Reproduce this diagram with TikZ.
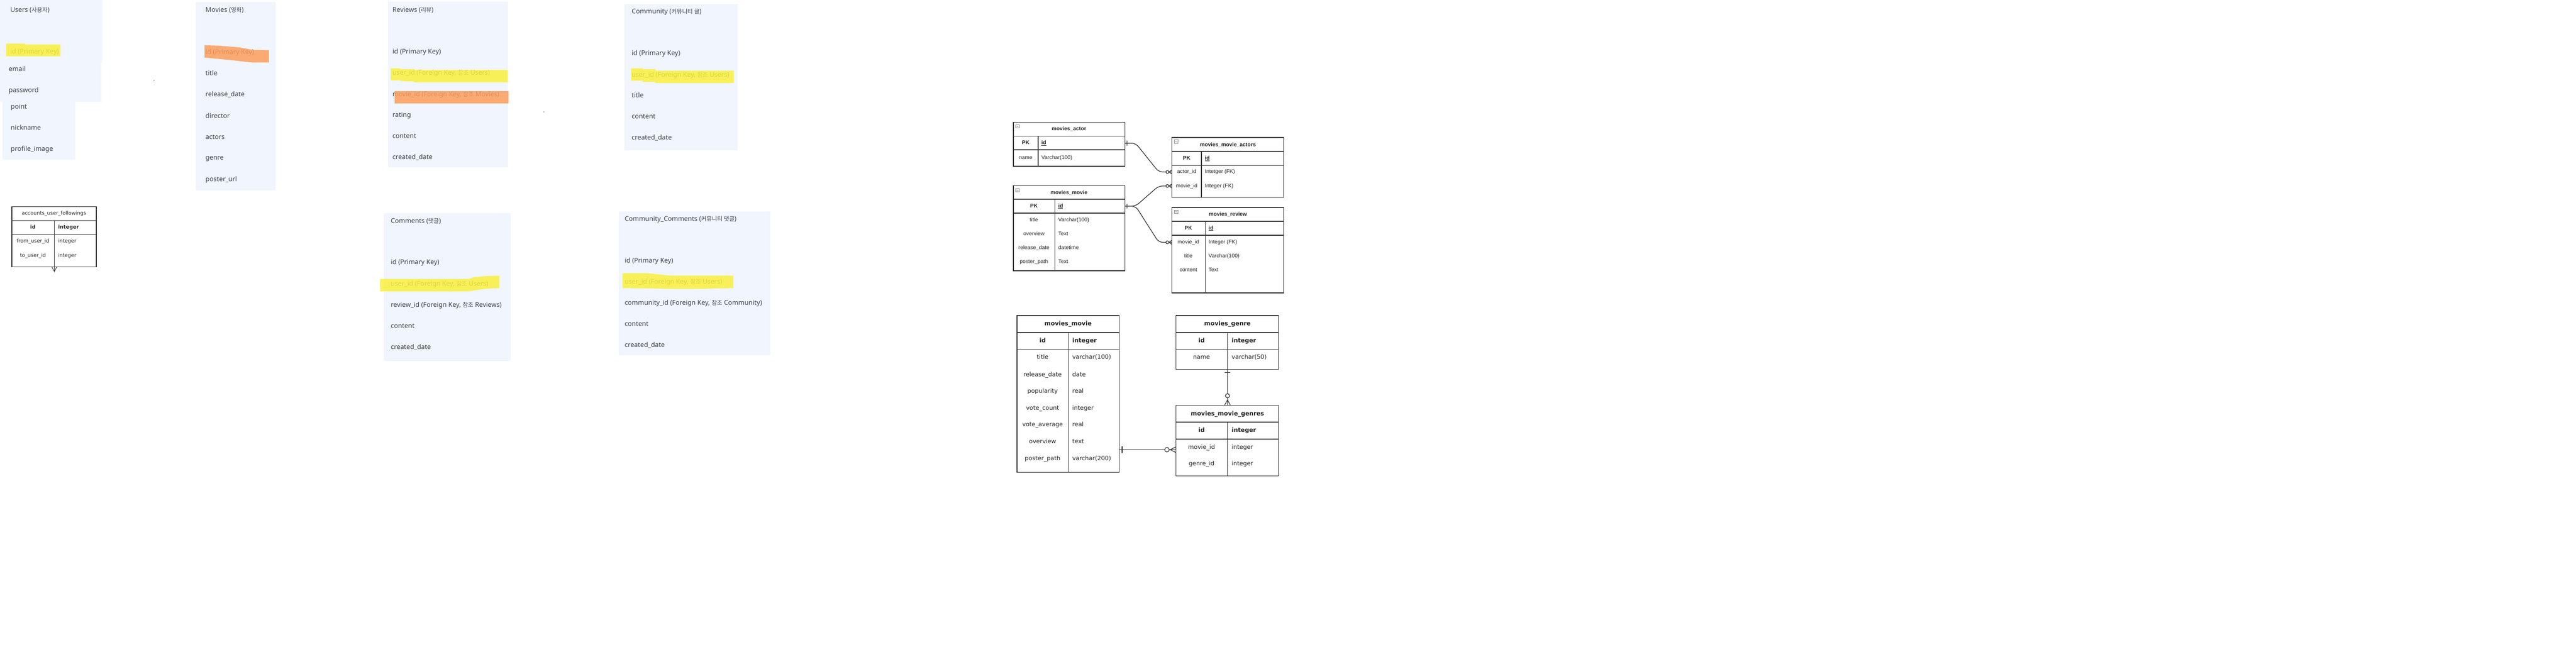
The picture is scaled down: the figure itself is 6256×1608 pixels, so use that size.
\documentclass[tikz,border=0pt]{standalone}
\usepackage{fontspec}
\setmainfont{Noto Sans}
\newfontfamily\krfont[Scale=0.88]{Noto Sans CJK KR}
\newfontfamily\erfont{Liberation Sans}
\newfontfamily\vfont{DejaVu Sans}
\newcommand{\kr}[1]{{\krfont #1}}
\usetikzlibrary{calc}
\definecolor{panelbg}{HTML}{F0F5FE}
\definecolor{ptext}{HTML}{3D4152}
\definecolor{hly}{HTML}{FAF03C}
\definecolor{hlo}{HTML}{FC9D5A}
\definecolor{erline}{HTML}{333333}
\definecolor{ertext}{HTML}{222222}
\definecolor{iconc}{HTML}{8A8A8A}
\tikzset{
  panel/.style={fill=panelbg, draw=none, anchor=north west, inner sep=0pt, outer sep=0pt},
  ptxt/.style={font=\fontsize{16}{19}\selectfont, text=ptext, anchor=west, inner sep=0pt, text height=12pt, text depth=2pt},
  hlyel/.style={fill=hly, opacity=.85},
  hlor/.style={fill=hlo, opacity=.85},
  ertab/.style={draw=erline, line width=1.8pt, anchor=north west, inner sep=0pt, outer sep=0pt},
  erl/.style={draw=erline, line width=1.8pt},
  at1/.style={font=\erfont\fontsize{13}{15}\selectfont, text=ertext, inner sep=0pt, text height=9.5pt, text depth=2.5pt},
  at1b/.style={at1, font=\erfont\bfseries\fontsize{13}{15}\selectfont},
  bt/.style={font=\vfont\fontsize{14.5}{17}\selectfont, text=ertext, inner sep=0pt, text height=11pt, text depth=3pt},
  btb/.style={bt, font=\vfont\bfseries\fontsize{14.5}{17}\selectfont},
  ct/.style={font=\vfont\fontsize{12.3}{15}\selectfont, text=ertext, inner sep=0pt, text height=9.5pt, text depth=2.5pt},
  ctb/.style={ct, font=\vfont\bfseries\fontsize{12.3}{15}\selectfont},
  conn/.style={draw=erline, line width=1.6pt},
  icon/.style={draw=iconc, fill=white, line width=0.8pt},
}
\begin{document}
\begin{tikzpicture}[x=1pt,y=-1pt]
\fill[white] (0,0) rectangle (6256,1608);
\useasboundingbox (0,0) rectangle (6256,1608);

% ================= Users =================
\node[panel, minimum width=248pt, minimum height=153pt] (users) at (0,0) {};
\fill[panelbg] (0,152) rectangle (245,248);
\fill[panelbg] (6,246) rectangle (183,388);
\node[ptxt] (u-title) at (25,24) {Users (\kr{사용자})};
\node[ptxt] (u-id) at (25,126) {id (Primary Key)};
\fill[hlyel] (15,106) -- (61,106) -- (61,108) -- (147,108) -- (147,137) -- (15,137) -- cycle;
\node[ptxt] (u-email) at (21,168) {email};
\node[ptxt] (u-pw) at (21,219) {password};
\node[ptxt] (u-point) at (26,260) {point};
\node[ptxt] (u-nick) at (26,311) {nickname};
\node[ptxt] (u-prof) at (26,362) {profile\_image};
\fill[ptext] (374,196) circle (1pt);

% ================= Movies =================
\node[panel, minimum width=194pt, minimum height=458pt] (movies) at (476,5) {};
\node[ptxt] (m-title) at (499,25) {Movies (\kr{영화})};
\node[ptxt] (m-id) at (499,127) {id (Primary Key)};
\fill[hlor] (497,110) -- (530,111) -- (580,115) -- (613,121) -- (653,122) -- (653,152) -- (613,152) -- (560,146) -- (497,140) -- cycle;
\node[ptxt] (m-t) at (499,178) {title};
\node[ptxt] (m-rd) at (499,230) {release\_date};
\node[ptxt] (m-dir) at (499,282) {director};
\node[ptxt] (m-act) at (499,333) {actors};
\node[ptxt] (m-gen) at (499,384) {genre};
\node[ptxt] (m-post) at (499,436) {poster\_url};

% ================= Reviews =================
\node[panel, minimum width=292pt, minimum height=403pt] (reviews) at (942,4) {};
\node[ptxt] (r-title) at (953,24) {Reviews (\kr{리뷰})};
\node[ptxt] (r-id) at (953,126) {id (Primary Key)};
\node[ptxt] (r-uid) at (953,177) {user\_id (Foreign Key, \kr{참조} Users)};
\fill[hlyel] (949,166) -- (972,166) -- (972,168) -- (1006,168) -- (1006,170) -- (1233,170) -- (1233,200) -- (1006,200) -- (1006,198) -- (972,197) -- (972,195) -- (949,195) -- cycle;
\node[ptxt] (r-mid) at (953,229) {movie\_id (Foreign Key, \kr{참조} Movies)};
\fill[hlor] (958,222) rectangle (1235,252);
\node[ptxt] (r-rat) at (953,280) {rating};
\node[ptxt] (r-con) at (953,331) {content};
\node[ptxt] (r-cd) at (953,382) {created\_date};
\fill[ptext] (1321,272) circle (1pt);

% ================= Community =================
\node[panel, minimum width=276pt, minimum height=355pt] (community) at (1516,10) {};
\node[ptxt] (c-title) at (1534,28) {Community (\kr{커뮤니티 글})};
\node[ptxt] (c-id) at (1534,130) {id (Primary Key)};
\node[ptxt] (c-uid) at (1534,182) {user\_id (Foreign Key, \kr{참조} Users)};
\fill[hlyel] (1533,166) -- (1561,166) -- (1561,168) -- (1592,168) -- (1592,172) -- (1782,172) -- (1782,202) -- (1592,202) -- (1592,199) -- (1561,199) -- (1561,196) -- (1533,196) -- cycle;
\node[ptxt] (c-t) at (1534,232) {title};
\node[ptxt] (c-con) at (1534,284) {content};
\node[ptxt] (c-cd) at (1534,335) {created\_date};

% ================= Comments =================
\node[panel, minimum width=308pt, minimum height=359pt] (comments) at (932,518) {};
\node[ptxt] (cm-title) at (949,537) {Comments (\kr{댓글})};
\node[ptxt] (cm-id) at (949,638) {id (Primary Key)};
\node[ptxt] (cm-uid) at (949,690) {user\_id (Foreign Key, \kr{참조} Users)};
\fill[hlyel] (923,678) -- (1139,678) -- (1150,674) -- (1180,671) -- (1213,670) -- (1213,700) -- (1180,702) -- (1150,706) -- (1139,708) -- (923,708) -- cycle;
\node[ptxt] (cm-rid) at (949,741) {review\_id (Foreign Key, \kr{참조} Reviews)};
\node[ptxt] (cm-con) at (949,793) {content};
\node[ptxt] (cm-cd) at (949,844) {created\_date};

% ================= Community_Comments =================
\node[panel, minimum width=367pt, minimum height=349pt] (ccomments) at (1503,514) {};
\node[ptxt] (cc-title) at (1517,532) {Community\_Comments (\kr{커뮤니티 댓글})};
\node[ptxt] (cc-id) at (1517,634) {id (Primary Key)};
\node[ptxt] (cc-uid) at (1517,685) {user\_id (Foreign Key, \kr{참조} Users)};
\fill[hlyel] (1512,664) -- (1571,664) -- (1600,667) -- (1629,670) -- (1781,670) -- (1781,700) -- (1700,702) -- (1629,702) -- (1512,700) -- cycle;
\node[ptxt] (cc-cid) at (1517,736) {community\_id (Foreign Key, \kr{참조} Community)};
\node[ptxt] (cc-con) at (1517,788) {content};
\node[ptxt] (cc-cd) at (1517,839) {created\_date};

% ================= accounts_user_followings =================
\node[ertab, line width=1.4pt, minimum width=205pt, minimum height=147pt] (auf) at (29,502) {};
\draw[erline, line width=3pt] (29,502) -- (29,649);
\draw[erline, line width=1.4pt] (29,536) -- (234,536) (29,570) -- (234,570) (132,536) -- (132,649);
\node[ct] (auf-t) at (131,519) {accounts\_user\_followings};
\node[ctb] (auf-id) at (80,553) {id};
\node[ctb, anchor=west] (auf-idt) at (141,553) {integer};
\node[ct] (auf-f) at (80,587) {from\_user\_id};
\node[ct, anchor=west] (auf-ft) at (141,587) {integer};
\node[ct] (auf-to) at (80,622) {to\_user\_id};
\node[ct, anchor=west] (auf-tt) at (141,622) {integer};
\coordinate (auf-foot) at (132,660);
\draw[erline, line width=1.2pt] (126,649) -- (auf-foot) -- (138,649) (132,649) -- (auf-foot);

% ================= movies_actor =================
\node[ertab, minimum width=271pt, minimum height=107pt] (ma) at (2461,297) {};
\draw[erl] (2461,331) -- (2732,331) (2461,364) -- (2732,364) (2521,331) -- (2521,404);
\draw[icon] (2467,303) rectangle (2475,311); \draw[iconc, line width=0.8pt] (2469,307) -- (2473,307);
\node[at1b] (ma-t) at (2596,314) {movies\_actor};
\node[at1b] (ma-pk) at (2491,348) {PK};
\node[at1b, anchor=west] (ma-id) at (2529,348) {\underline{id}};
\node[at1] (ma-n) at (2491,384) {name};
\node[at1, anchor=west] (ma-nt) at (2529,384) {Varchar(100)};

% ================= movies_movie_actors =================
\node[ertab, minimum width=271pt, minimum height=146pt] (mma) at (2846,334) {};
\draw[erl] (2846,368) -- (3117,368) (2846,402) -- (3117,402) (2918,368) -- (2918,480);
\draw[icon] (2852,340) rectangle (2860,348); \draw[iconc, line width=0.8pt] (2854,344) -- (2858,344);
\node[at1b] (mma-t) at (2982,352) {movies\_movie\_actors};
\node[at1b] (mma-pk) at (2882,385) {PK};
\node[at1b, anchor=west] (mma-id) at (2926,385) {\underline{id}};
\node[at1] (mma-a) at (2882,418) {actor\_id};
\node[at1, anchor=west] (mma-at) at (2926,418) {Intetger (FK)};
\node[at1] (mma-m) at (2882,452) {movie\_id};
\node[at1, anchor=west] (mma-mt) at (2926,452) {Integer (FK)};

% ================= movies_movie (top) =================
\node[ertab, minimum width=271pt, minimum height=207pt] (mm1) at (2461,451) {};
\draw[erl] (2461,484) -- (2732,484) (2461,518) -- (2732,518) (2562,484) -- (2562,658);
\draw[icon] (2467,458) rectangle (2475,466); \draw[iconc, line width=0.8pt] (2469,462) -- (2473,462);
\node[at1b] (mm1-t) at (2596,469) {movies\_movie};
\node[at1b] (mm1-pk) at (2511,501) {PK};
\node[at1b, anchor=west] (mm1-id) at (2570,501) {\underline{id}};
\node[at1] (mm1-r1) at (2511,535) {title};
\node[at1, anchor=west] (mm1-r1t) at (2570,535) {Varchar(100)};
\node[at1] (mm1-r2) at (2511,569) {overview};
\node[at1, anchor=west] (mm1-r2t) at (2570,569) {Text};
\node[at1] (mm1-r3) at (2511,603) {release\_date};
\node[at1, anchor=west] (mm1-r3t) at (2570,603) {datetime};
\node[at1] (mm1-r4) at (2511,637) {poster\_path};
\node[at1, anchor=west] (mm1-r4t) at (2570,637) {Text};

% ================= movies_review =================
\node[ertab, minimum width=271pt, minimum height=208pt] (mr) at (2846,504) {};
\draw[erl] (2846,538) -- (3117,538) (2846,572) -- (3117,572) (2927,538) -- (2927,712);
\draw[icon] (2852,511) rectangle (2860,519); \draw[iconc, line width=0.8pt] (2854,515) -- (2858,515);
\node[at1b] (mr-t) at (2982,522) {movies\_review};
\node[at1b] (mr-pk) at (2886,555) {PK};
\node[at1b, anchor=west] (mr-id) at (2935,555) {\underline{id}};
\node[at1] (mr-r1) at (2886,589) {movie\_id};
\node[at1, anchor=west] (mr-r1t) at (2935,589) {Integer (FK)};
\node[at1] (mr-r2) at (2886,623) {title};
\node[at1, anchor=west] (mr-r2t) at (2935,623) {Varchar(100)};
\node[at1] (mr-r3) at (2886,657) {content};
\node[at1, anchor=west] (mr-r3t) at (2935,657) {Text};

% ---- connectors (top right) ----
\draw[conn, rounded corners=10pt] (ma.east |- ma-pk) -- ++(26,0) -- ($(mma.west |- mma-a)+(-32,0)$) -- (mma.west |- mma-a);
\draw[conn, rounded corners=10pt] (mm1.east |- mm1-pk) -- ++(26,0) -- ($(mma.west |- mma-m)+(-32,0)$) -- (mma.west |- mma-m);
\draw[conn, rounded corners=10pt] (mm1.east |- mm1-pk) -- ++(26,0) -- ($(mr.west |- mr-r1)+(-32,0)$) -- (mr.west |- mr-r1);
% one marks
\draw[conn] ($(ma.east |- ma-pk)+(5,-6)$) -- ++(0,12);
\draw[conn] ($(mm1.east |- mm1-pk)+(5,-6)$) -- ++(0,12);
% zero-or-many marks
\foreach \t in {mma-a, mma-m, mr-r1}{
  \draw[conn, fill=white] ($(mma.west |- \t)+(-11,0)$) circle (3.5pt);
  \draw[conn] ($(mma.west |- \t)+(-7,0)$) -- ($(mma.west |- \t)+(0,-5)$)
              ($(mma.west |- \t)+(-7,0)$) -- ($(mma.west |- \t)+(0,5)$);
}

% ================= movies_movie (bottom) =================
\node[ertab, minimum width=248pt, minimum height=381pt] (mm2) at (2470,767) {};
\draw[erl] (2470,808) -- (2718,808) (2470,849) -- (2718,849) (2594,808) -- (2594,1148);
\node[btb] (mm2-t) at (2594,788) {movies\_movie};
\node[btb] (mm2-id) at (2532,829) {id};
\node[btb, anchor=west] (mm2-idt) at (2604,829) {integer};
\node[bt] (mm2-r1) at (2532,869) {title};
\node[bt, anchor=west] (mm2-r1t) at (2604,869) {varchar(100)};
\node[bt] (mm2-r2) at (2532,911) {release\_date};
\node[bt, anchor=west] (mm2-r2t) at (2604,911) {date};
\node[bt] (mm2-r3) at (2532,951) {popularity};
\node[bt, anchor=west] (mm2-r3t) at (2604,951) {real};
\node[bt] (mm2-r4) at (2532,992) {vote\_count};
\node[bt, anchor=west] (mm2-r4t) at (2604,992) {integer};
\node[bt] (mm2-r5) at (2532,1033) {vote\_average};
\node[bt, anchor=west] (mm2-r5t) at (2604,1033) {real};
\node[bt] (mm2-r6) at (2532,1074) {overview};
\node[bt, anchor=west] (mm2-r6t) at (2604,1074) {text};
\node[bt] (mm2-r7) at (2532,1115) {poster\_path};
\node[bt, anchor=west] (mm2-r7t) at (2604,1115) {varchar(200)};

% ================= movies_genre =================
\node[ertab, minimum width=249pt, minimum height=131pt] (mg) at (2856,767) {};
\draw[erl] (2856,808) -- (3105,808) (2856,849) -- (3105,849) (2981,808) -- (2981,898);
\node[btb] (mg-t) at (2981,788) {movies\_genre};
\node[btb] (mg-id) at (2918,829) {id};
\node[btb, anchor=west] (mg-idt) at (2991,829) {integer};
\node[bt] (mg-n) at (2918,869) {name};
\node[bt, anchor=west] (mg-nt) at (2991,869) {varchar(50)};

% ================= movies_movie_genres =================
\node[ertab, minimum width=249pt, minimum height=172pt] (mmg) at (2856,985) {};
\draw[erl] (2856,1026) -- (3105,1026) (2856,1067) -- (3105,1067) (2981,1026) -- (2981,1157);
\node[btb] (mmg-t) at (2981,1006) {movies\_movie\_genres};
\node[btb] (mmg-id) at (2918,1046) {id};
\node[btb, anchor=west] (mmg-idt) at (2991,1046) {integer};
\node[bt] (mmg-m) at (2918,1088) {movie\_id};
\node[bt, anchor=west] (mmg-mt) at (2991,1088) {integer};
\node[bt] (mmg-g) at (2918,1128) {genre\_id};
\node[bt, anchor=west] (mmg-gt) at (2991,1128) {integer};

% ---- connectors (bottom right) ----
\coordinate (gtop) at (2981,898);
\coordinate (gbot) at (2981,985);
\draw[conn] (gtop) -- (gbot);
\draw[conn] ($(gtop)+(-7,7)$) -- ++(14,0);
\draw[conn, fill=white] ($(gbot)+(0,-23)$) circle (5pt);
\draw[conn] ($(gbot)+(0,-13)$) -- ($(gbot)+(-7,0)$) ($(gbot)+(0,-13)$) -- ($(gbot)+(7,0)$);

\coordinate (mleft) at (mm2.east |- 2718,1093);
\coordinate (mright) at (mmg.west |- 2856,1093);
\draw[conn] (mleft) -- (mright);
\draw[conn] ($(mleft)+(7,-8)$) -- ++(0,16);
\draw[conn, fill=white] ($(mright)+(-22,0)$) circle (5.5pt);
\draw[conn] ($(mright)+(-14,0)$) -- ($(mright)+(0,-7)$) ($(mright)+(-14,0)$) -- ($(mright)+(0,7)$);

\end{tikzpicture}
\end{document}
